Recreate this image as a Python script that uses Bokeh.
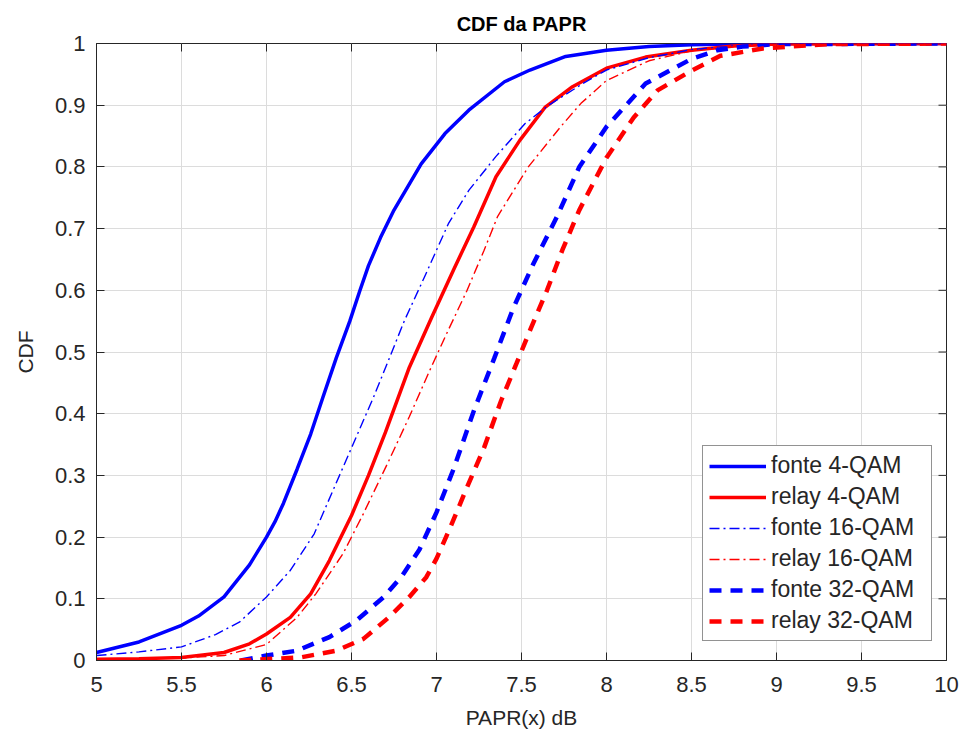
import math
from bokeh.plotting import figure
from bokeh.models import FixedTicker, Legend, LegendItem, Range1d
from bokeh.embed import file_html
from bokeh.resources import INLINE

# ---- data ----
x_f4 = [5.0, 5.25, 5.5, 5.6, 5.75, 5.9, 6.0, 6.05, 6.1, 6.18, 6.26, 6.33, 6.41, 6.49, 6.55, 6.6, 6.67, 6.75, 6.91, 7.05, 7.19, 7.4, 7.55, 7.76, 8.0, 8.25, 8.5, 8.75, 9.0, 10.0]
y_f4 = [0.013, 0.03, 0.057, 0.072, 0.103, 0.155, 0.2, 0.225, 0.255, 0.31, 0.367, 0.425, 0.49, 0.55, 0.6, 0.64, 0.685, 0.73, 0.805, 0.854, 0.892, 0.938, 0.957, 0.979, 0.989, 0.995, 0.998, 0.999, 1.0, 1.0]

x_r4 = [5.0, 5.25, 5.5, 5.75, 5.9, 6.0, 6.14, 6.26, 6.37, 6.5, 6.6, 6.7, 6.84, 6.97, 7.1, 7.22, 7.35, 7.49, 7.64, 7.8, 8.0, 8.23, 8.5, 8.75, 9.0, 10.0]
y_r4 = [0.002, 0.003, 0.005, 0.013, 0.027, 0.043, 0.07, 0.108, 0.162, 0.235, 0.3, 0.37, 0.475, 0.555, 0.633, 0.703, 0.784, 0.843, 0.897, 0.93, 0.96, 0.978, 0.989, 0.996, 0.999, 1.0]

x_f16 = [5.0, 5.25, 5.5, 5.7, 5.84, 6.0, 6.14, 6.28, 6.39, 6.51, 6.63, 6.73, 6.81, 6.93, 7.07, 7.19, 7.35, 7.52, 7.66, 7.86, 8.0, 8.25, 8.5, 8.75, 9.0, 10.0]
y_f16 = [0.008, 0.014, 0.022, 0.042, 0.062, 0.103, 0.146, 0.205, 0.275, 0.351, 0.427, 0.495, 0.55, 0.622, 0.708, 0.762, 0.817, 0.87, 0.9, 0.935, 0.957, 0.977, 0.99, 0.996, 0.999, 1.0]

x_r16 = [5.0, 5.5, 5.75, 6.0, 6.18, 6.29, 6.45, 6.57, 6.72, 6.84, 6.96, 7.06, 7.18, 7.28, 7.36, 7.54, 7.73, 7.85, 8.0, 8.25, 8.5, 8.75, 9.0, 10.0]
y_r16 = [0.002, 0.004, 0.008, 0.026, 0.07, 0.108, 0.173, 0.238, 0.324, 0.395, 0.47, 0.53, 0.6, 0.665, 0.72, 0.8, 0.865, 0.903, 0.94, 0.972, 0.988, 0.995, 0.999, 1.0]

x_f32 = [5.85, 6.0, 6.18, 6.37, 6.53, 6.69, 6.8, 6.9, 7.0, 7.1, 7.22, 7.34, 7.45, 7.57, 7.71, 7.84, 8.0, 8.23, 8.5, 8.65, 8.8, 9.0, 10.0]
y_f32 = [0.0, 0.008, 0.016, 0.038, 0.065, 0.103, 0.138, 0.18, 0.24, 0.31, 0.405, 0.49, 0.57, 0.643, 0.72, 0.8, 0.865, 0.935, 0.975, 0.989, 0.995, 0.999, 1.0]

x_r32 = [5.84, 6.2, 6.41, 6.57, 6.72, 6.84, 6.94, 7.0, 7.08, 7.18, 7.28, 7.38, 7.47, 7.55, 7.65, 7.74, 7.84, 8.0, 8.16, 8.3, 8.5, 8.67, 8.92, 9.3, 10.0]
y_r32 = [0.0, 0.005, 0.016, 0.035, 0.07, 0.103, 0.135, 0.165, 0.215, 0.281, 0.345, 0.421, 0.481, 0.535, 0.6, 0.665, 0.73, 0.815, 0.88, 0.924, 0.956, 0.98, 0.992, 0.999, 1.0]

labels = ["fonte 4-QAM", "relay 4-QAM", "fonte 16-QAM", "relay 16-QAM", "fonte 32-QAM", "relay 32-QAM"]

x_ticks = [5, 5.5, 6, 6.5, 7, 7.5, 8, 8.5, 9, 9.5, 10]
x_tick_labels = ["5", "5.5", "6", "6.5", "7", "7.5", "8", "8.5", "9", "9.5", "10"]
y_ticks = [0, 0.1, 0.2, 0.3, 0.4, 0.5, 0.6, 0.7, 0.8, 0.9, 1.0]
y_tick_labels = ["0", "0.1", "0.2", "0.3", "0.4", "0.5", "0.6", "0.7", "0.8", "0.9", "1"]

FONT = "Liberation Sans"
AX = "#262626"

p = figure(width=963, height=738, output_backend="svg", toolbar_location=None,
           x_range=Range1d(5, 10), y_range=Range1d(0, 1),
           min_border_left=96, min_border_right=17, min_border_top=43, min_border_bottom=78,
           title="CDF da PAPR")
p.background_fill_color = "white"
p.border_fill_color = "white"
p.outline_line_color = AX
p.outline_line_width = 1

p.title.text_font = FONT
p.title.text_font_size = "20px"
p.title.text_font_style = "bold"
p.title.text_color = "black"
p.title.align = "center"
p.title.standoff = 18

for ax, ticks, labs in ((p.xaxis[0], x_ticks, x_tick_labels), (p.yaxis[0], y_ticks, y_tick_labels)):
    ax.ticker = FixedTicker(ticks=ticks)
    ax.major_label_overrides = {t: l for t, l in zip(ticks, labs)}
    ax.major_tick_in = 8
    ax.major_tick_out = 0
    ax.minor_tick_in = 0
    ax.minor_tick_out = 0
    ax.axis_line_color = AX
    ax.major_tick_line_color = AX
    ax.major_label_text_font = FONT
    ax.major_label_text_font_size = "22px"
    ax.major_label_text_color = AX
    ax.axis_label_text_font = FONT
    ax.axis_label_text_font_size = "21px"
    ax.axis_label_text_font_style = "normal"
    ax.axis_label_text_color = AX

p.xaxis.axis_label = "PAPR(x) dB"
p.yaxis.axis_label = "CDF"
p.xaxis.major_label_standoff = 16
p.yaxis.major_label_standoff = 11
p.xaxis.axis_label_standoff = 11
p.yaxis.axis_label_standoff = 15

p.xgrid.ticker = FixedTicker(ticks=x_ticks)
p.ygrid.ticker = FixedTicker(ticks=y_ticks)
p.grid.grid_line_color = "#dcdcdc"
p.grid.grid_line_width = 1

# inward ticks on the top and right edges of the box (clipped to the frame)
p.scatter(x=x_ticks, y=[1.0] * len(x_ticks), marker="dash", size=16, angle=math.pi / 2,
          line_color=AX, line_width=1)
p.scatter(x=[10.0] * len(y_ticks), y=y_ticks, marker="dash", size=16,
          line_color=AX, line_width=1)

BLUE = "#0000ff"
RED = "#ff0000"
series = [
    (x_f4, y_f4, BLUE, 3.5, "solid"),
    (x_r4, y_r4, RED, 3.5, "solid"),
    (x_f16, y_f16, BLUE, 1.4, "10 4 2 4"),
    (x_r16, y_r16, RED, 1.4, "10 4 2 4"),
    (x_f32, y_f32, BLUE, 4.5, "12 9"),
    (x_r32, y_r32, RED, 4.5, "12 9"),
]
items = []
for (xs, ys, c, w, d), lab in zip(series, labels):
    r = p.line(xs, ys, line_color=c, line_width=w, line_dash=d)
    items.append(LegendItem(label=lab, renderers=[r]))

legend = Legend(items=items, location=(606, 19), orientation="vertical",
                glyph_width=57, glyph_height=20, label_height=20, label_width=154,
                spacing=4, padding=6, margin=0, label_standoff=5,
                label_text_font=FONT, label_text_font_size="23px", label_text_color=AX,
                border_line_color=AX, border_line_width=1,
                background_fill_color="white", background_fill_alpha=1)
p.add_layout(legend, "center")

open("out.html", "w").write(file_html(p, INLINE))
